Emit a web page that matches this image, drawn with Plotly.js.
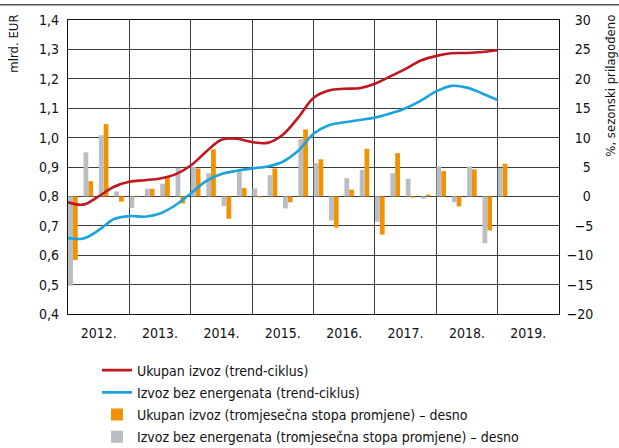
<!DOCTYPE html>
<html>
<head>
<meta charset="utf-8">
<script src="https://cdn.plot.ly/plotly-3.0.1.min.js"></script>
<style>body{margin:0;background:#fff;}</style>
</head>
<body>
<div id="chart" style="width:619px;height:448px;"></div>
<script>
// quarterly series, 2012 Q1 - 2019 Q1
var firstYear = 2012;
var yearLabels = ["2012.", "2013.", "2014.", "2015.", "2016.", "2017.", "2018.", "2019."];

// trend-cycle, mlrd. EUR (left axis)
var totalTrend = [0.780, 0.772, 0.800, 0.833, 0.850, 0.855, 0.861, 0.875, 0.905, 0.952,
    0.993, 0.996, 0.985, 0.982, 1.010, 1.068, 1.135, 1.160, 1.166, 1.168,
    1.183, 1.208, 1.234, 1.262, 1.278, 1.287, 1.288, 1.291, 1.297];
var nonEnergyTrend = [0.658, 0.657, 0.685, 0.723, 0.733, 0.731, 0.742, 0.770, 0.810, 0.852,
    0.876, 0.887, 0.895, 0.902, 0.918, 0.955, 1.013, 1.042, 1.052, 1.060,
    1.068, 1.082, 1.100, 1.126, 1.157, 1.176, 1.170, 1.150, 1.128];

// quarterly rate of change, % (right axis)
var totalRate = [-10.8, 2.6, 12.3, -0.9, 0.1, 1.3, 3.3, -1.2, 4.75, 8.0,
    -3.8, 1.45, -0.15, 4.75, -1.0, 11.4, 6.3, -5.3, 1.15, 8.1,
    -6.5, 7.35, -0.2, 0.3, 4.3, -1.7, 4.6, -5.8, 5.55];
var nonEnergyRate = [-15.2, 7.5, 10.4, 0.85, -1.95, 1.3, 2.15, 4.85, 5.0, 3.95,
    -1.65, 4.25, 1.35, 3.6, -2.05, 9.7, 5.65, -4.1, 3.1, 4.5,
    -4.3, 3.95, 3.0, -0.4, 5.1, -1.0, 5.1, -7.95, 4.8];

var rightTickVals = [-20, -15, -10, -5, 0, 5, 10, 15, 20, 25, 30];
var rightTickText = ["\u221220", "\u221215", "\u221210", "\u2007\u22125", "\u2007\u20070", "\u2007\u20075",
    "\u200710", "\u200715", "\u200720", "\u200725", "\u200730"];

// x position of each quarter on a year scale
var quarterPos = totalTrend.map((v, i) => firstYear + i / 4);
var yearMid = yearLabels.map((y, i) => firstYear + i + 0.5);

var font = "DejaVu Sans Condensed, Liberation Sans Narrow, sans-serif";
var gridCol = "#3c3c3c";

var trace1 = {
    x: quarterPos, y: totalTrend, yaxis: "y2",
    name: "Ukupan izvoz (trend-ciklus)",
    type: "scatter", mode: "lines",
    line: {color: "#c0181e", width: 2.6, shape: "spline", smoothing: 1},
    legendgroup: "a"
};
var trace2 = {
    x: quarterPos, y: nonEnergyTrend, yaxis: "y2",
    name: "Izvoz bez energenata (trend-ciklus)",
    type: "scatter", mode: "lines",
    line: {color: "#1ba3dd", width: 2.6, shape: "spline", smoothing: 1},
    legendgroup: "b"
};
var trace3 = {
    x: quarterPos, y: totalRate, yaxis: "y",
    name: "Ukupan izvoz (tromjesečna stopa promjene) – desno",
    type: "bar", width: 0.078, offset: 0.081,
    marker: {color: "#f39200", line: {width: 0}},
    legendgroup: "c"
};
var trace4 = {
    x: quarterPos, y: nonEnergyRate, yaxis: "y",
    name: "Izvoz bez energenata (tromjesečna stopa promjene) – desno",
    type: "bar", width: 0.078, offset: 0.003,
    marker: {color: "#b8bec4", line: {width: 0}},
    legendgroup: "d"
};

var data = [trace1, trace2, trace3, trace4];

var layout = {
    width: 619, height: 448,
    margin: {l: 68, r: 60, t: 20, b: 134, autoexpand: false},
    paper_bgcolor: "#fff", plot_bgcolor: "#fff",
    separators: ",.",
    font: {family: font, size: 14, color: "#111"},
    showlegend: true,
    barmode: "overlay",
    xaxis: {
        range: [2012, 2020], tickmode: "array", tickvals: yearMid, ticktext: yearLabels,
        ticks: "", showgrid: false, zeroline: false, ticklabelstandoff: 6,
        showline: true, mirror: true, linecolor: "#111", linewidth: 1,
        minor: {tick0: 2012, dtick: 1, showgrid: true, gridcolor: gridCol, gridwidth: 1, ticks: ""},
        fixedrange: true
    },
    yaxis: {
        side: "right", range: [-20, 30],
        tickmode: "array", tickvals: rightTickVals, ticktext: rightTickText,
        showgrid: true, gridcolor: gridCol, gridwidth: 1, zeroline: false,
        showline: true, mirror: true, linecolor: "#111", linewidth: 1,
        ticks: "", ticklabelstandoff: 4
    },
    yaxis2: {
        overlaying: "y", side: "left", range: [0.4, 1.4], dtick: 0.1, tickformat: ".1f",
        showgrid: false, zeroline: false, ticks: "", ticklabelstandoff: 8
    },
    legend: {
        x: 0.059, xanchor: "left", y: -0.138, yanchor: "top",
        tracegroupgap: 1, font: {size: 14}, bgcolor: "rgba(0,0,0,0)"
    },
    annotations: [
        {text: "mlrd. EUR", xref: "paper", yref: "paper", x: -0.11, y: 1.025,
         xanchor: "center", yanchor: "top", textangle: -90, showarrow: false, font: {size: 13}},
        {text: "%, sezonski prilagođeno", xref: "paper", yref: "paper", x: 1.106, y: 1.025,
         xanchor: "center", yanchor: "top", textangle: -90, showarrow: false, font: {size: 13}}
    ],
    shapes: [
        {type: "line", xref: "paper", yref: "paper", x0: -0.14, x1: 1.13, y0: 1.052, y1: 1.052,
         line: {color: "#555", width: 1.5}}
    ]
};

var config = {staticPlot: true};

Plotly.newPlot("chart", data, layout, config);
</script>
</body>
</html>
